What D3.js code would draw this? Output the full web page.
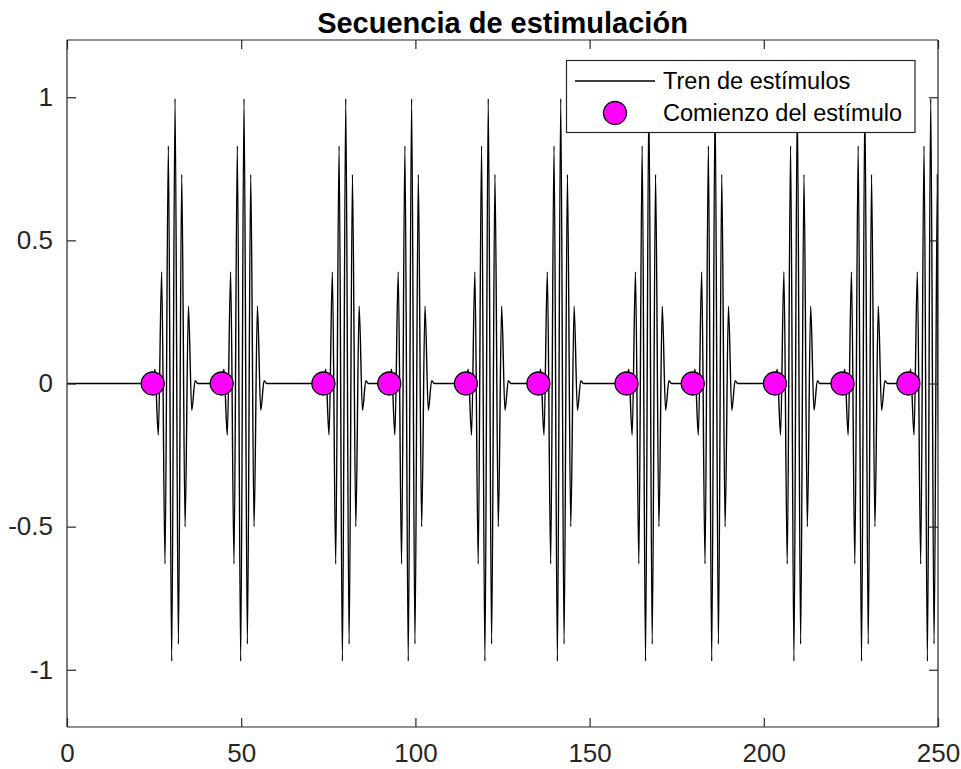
<!DOCTYPE html>
<html>
<head>
<meta charset="utf-8">
<script src="https://cdn.jsdelivr.net/npm/d3@7/dist/d3.min.js"></script>
<style>
  html, body { margin: 0; padding: 0; background: #fff; }
  svg { display: block; font-family: "Liberation Sans", Arial, Helvetica, sans-serif; }
</style>
</head>
<body>
<svg id="chart" width="961" height="769"></svg>
<script>
// ---- data ----
const title = "Secuencia de estimulación";
const seriesLineName = "Tren de estímulos";
const seriesMarkerName = "Comienzo del estímulo";
// stimulus onsets (x values)
const onsets = [24.6, 44.4, 73.6, 92.5, 114.5, 135.3, 160.6, 179.6, 203.2, 222.6, 241.5];
// one stimulus: extrema times relative to onset, and their amplitudes
const pulseTimes  = [0, 0.65, 1.61, 2.57, 3.53, 4.49, 5.45, 6.41, 7.37, 8.33, 9.29, 10.25, 11.21, 12.17, 12.9];
const pulseValues = [0, 0.05, -0.18, 0.39, -0.63, 0.83, -0.97, 0.995, -0.91, 0.73, -0.50, 0.27, -0.094, 0.01, 0];
const xTicks = [0, 50, 100, 150, 200, 250];
const yTicks = [-1, -0.5, 0, 0.5, 1];
const xDomain = [0, 250];
const yDomain = [-1.2, 1.2];

// ---- layout ----
const L = 67, R = 938, T = 40, B = 727;
const axisColor = "#262626";
const svg = d3.select("#chart");

const x = d3.scaleLinear().domain(xDomain).range([L, R]);
const y = d3.scaleLinear().domain(yDomain).range([B, T]);

// build the train from the data
const train = [[xDomain[0], 0]];
onsets.forEach(o => {
  pulseTimes.forEach((t, i) => train.push([o + t, pulseValues[i]]));
});
train.push([xDomain[1], 0]);
train.sort((a, b) => a[0] - b[0]);

svg.append("defs").append("clipPath").attr("id", "clip")
  .append("rect").attr("x", L).attr("y", T).attr("width", R - L).attr("height", B - T);

svg.append("rect").attr("x", L).attr("y", T).attr("width", R - L).attr("height", B - T)
  .attr("fill", "#fff");

const plot = svg.append("g").attr("clip-path", "url(#clip)");

const line = d3.line()
  .x(d => x(d[0])).y(d => y(d[1]))
  .curve(d3.curveMonotoneX);

plot.append("path").datum(train)
  .attr("d", line)
  .attr("fill", "none")
  .attr("stroke", "#000")
  .attr("stroke-width", 1.4);

plot.selectAll("circle.onset").data(onsets).enter().append("circle")
  .attr("class", "onset")
  .attr("cx", d => x(d)).attr("cy", y(0)).attr("r", 11.5)
  .attr("fill", "#ff00ff").attr("stroke", "#000").attr("stroke-width", 1.3);

// axes (MATLAB style box with inward ticks)
const fmt = d => String(d); // plain hyphen-minus like the reference
const tickLen = 9;
const axB = svg.append("g").attr("transform", `translate(0,${B})`)
  .call(d3.axisBottom(x).tickValues(xTicks).tickSize(-tickLen).tickPadding(tickLen + 8).tickFormat(fmt));
const axT = svg.append("g").attr("transform", `translate(0,${T})`)
  .call(d3.axisTop(x).tickValues(xTicks).tickSize(-tickLen).tickFormat(""));
const axL = svg.append("g").attr("transform", `translate(${L},0)`)
  .call(d3.axisLeft(y).tickValues(yTicks).tickSize(-tickLen).tickPadding(tickLen + 5).tickFormat(fmt));
const axR = svg.append("g").attr("transform", `translate(${R},0)`)
  .call(d3.axisRight(y).tickValues(yTicks).tickSize(-tickLen).tickFormat(""));

[axB, axT, axL, axR].forEach(g => {
  g.select(".domain").attr("stroke", axisColor).attr("stroke-width", 1.2);
  g.selectAll(".tick line").attr("stroke", axisColor).attr("stroke-width", 1.2);
  g.selectAll(".tick text").attr("fill", axisColor).attr("font-size", 26)
    .attr("font-family", "'Liberation Sans', Arial, sans-serif");
});
axB.selectAll(".domain").attr("d", `M${L},0H${R}`);
axT.selectAll(".domain").attr("d", `M${L},0H${R}`);
axL.selectAll(".domain").attr("d", `M0,${T}V${B}`);
axR.selectAll(".domain").attr("d", `M0,${T}V${B}`);

// title
svg.append("text").attr("x", (L + R) / 2).attr("y", 33)
  .attr("text-anchor", "middle").attr("font-weight", "bold").attr("font-size", 29)
  .attr("fill", "#000").text(title);

// legend
const lg = svg.append("g");
lg.append("rect").attr("x", 566.5).attr("y", 60.5).attr("width", 348.5).attr("height", 72)
  .attr("fill", "#fff").attr("stroke", axisColor).attr("stroke-width", 1.2);
lg.append("line").attr("x1", 575).attr("x2", 655).attr("y1", 81).attr("y2", 81)
  .attr("stroke", "#000").attr("stroke-width", 1.3);
lg.append("circle").attr("cx", 615).attr("cy", 113).attr("r", 11.5)
  .attr("fill", "#ff00ff").attr("stroke", "#000").attr("stroke-width", 1.3);
lg.append("text").attr("x", 663).attr("y", 89).attr("font-size", 23.5).attr("fill", "#000")
  .text(seriesLineName);
lg.append("text").attr("x", 663).attr("y", 121).attr("font-size", 23.5).attr("fill", "#000")
  .text(seriesMarkerName);
</script>
</body>
</html>
